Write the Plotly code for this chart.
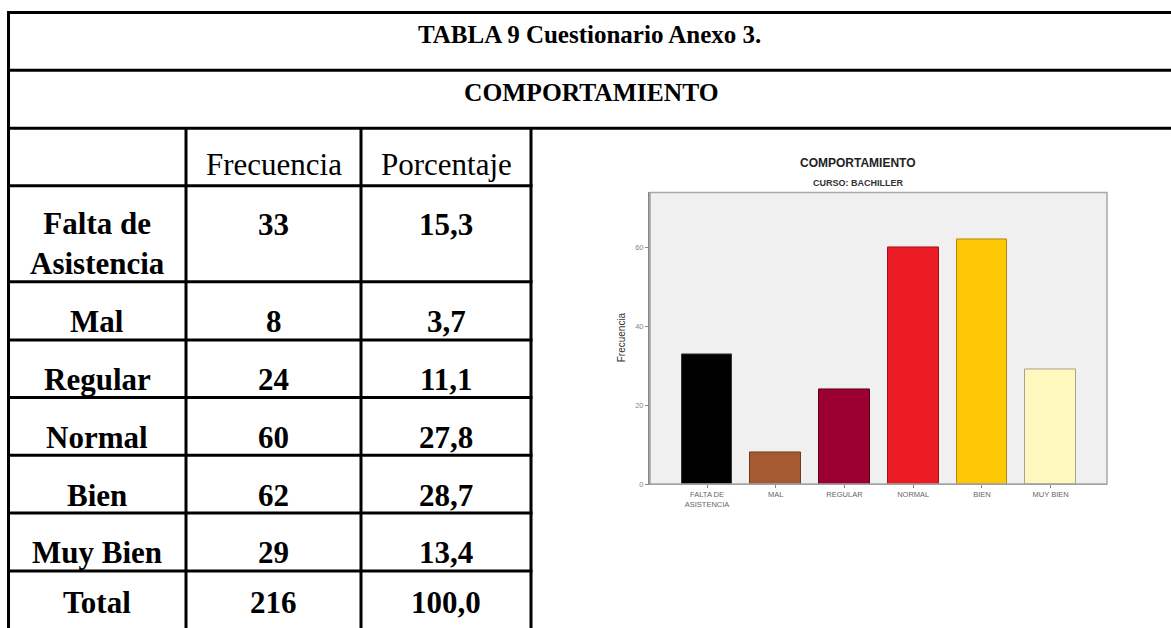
import plotly.graph_objects as go

W, H = 1171, 628

# ---- data ----
row_labels = ["Falta de<br>Asistencia", "Mal", "Regular", "Normal", "Bien", "Muy Bien"]
frecuencia = [33, 8, 24, 60, 62, 29]
porcentaje = ["15,3", "3,7", "11,1", "27,8", "28,7", "13,4"]
total_label = "Total"
total_frec = 216
total_pct = "100,0"
chart_labels = ["FALTA DE<br>ASISTENCIA", "MAL", "REGULAR", "NORMAL", "BIEN", "MUY BIEN"]
bar_colors = ["#000000", "#A65A32", "#9C0030", "#EC1C24", "#FFC805", "#FFF8BE"]
bar_edges = ["#333333", "#6E3A20", "#5E001C", "#A01218", "#B08A10", "#A8A48C"]
y_ticks = [0, 20, 40, 60]


def px(x):
    return x / W


def py(y):
    return 1 - y / H


fig = go.Figure()

fig.add_trace(go.Bar(
    x=list(range(len(frecuencia))), y=frecuencia,
    marker=dict(color=bar_colors, line=dict(color=bar_edges, width=1)),
    width=0.74, showlegend=False, hoverinfo="skip",
))

shapes = []
LW = 3
for y in [12.7, 70.7, 129.3]:
    shapes.append(dict(type="line", xref="paper", yref="paper", x0=px(7.2), x1=px(1180),
                       y0=py(y), y1=py(y), line=dict(color="black", width=LW)))
row_edges = [187.3, 284, 342.7, 400.7, 459, 517, 575.7]
for y in row_edges:
    shapes.append(dict(type="line", xref="paper", yref="paper", x0=px(7.2), x1=px(532.5),
                       y0=py(y), y1=py(y), line=dict(color="black", width=LW)))
shapes.append(dict(type="line", xref="paper", yref="paper", x0=px(8.5), x1=px(8.5),
                   y0=py(11.2), y1=py(640), line=dict(color="black", width=LW)))
for x in [186, 361, 531]:
    shapes.append(dict(type="line", xref="paper", yref="paper", x0=px(x), x1=px(x),
                       y0=py(129.3), y1=py(640), line=dict(color="black", width=LW)))
# chart frame
shapes.append(dict(type="rect", xref="paper", yref="paper", x0=px(650), x1=px(1107),
                   y0=py(488), y1=py(194), line=dict(color="#A8A8A8", width=1.5)))

ann = []
SERIF = "Liberation Serif"


def A(x, y, text, size, family=SERIF, color="black", **kw):
    d = dict(x=px(x), y=py(y), xref="paper", yref="paper", text=text, showarrow=False,
             xanchor="center", yanchor="middle",
             font=dict(family=family, size=size, color=color))
    d.update(kw)
    ann.append(d)


A(589, 35, "<b>TABLA 9 Cuestionario Anexo 3.</b>", 25)
A(591, 93, "<b>COMPORTAMIENTO</b>", 25.5)
A(273.5, 166, "Frecuencia", 31)
A(446, 166, "Porcentaje", 31)

labels_all = row_labels + [total_label]
frec_all = frecuencia + [total_frec]
pct_all = porcentaje + [total_pct]
tops = [187.3, 284, 342.7, 400.7, 459, 517, 575.7]
for i, (lab, f, p) in enumerate(zip(labels_all, frec_all, pct_all)):
    if i == 0:
        yl, yv = 245, 226
    elif i == len(labels_all) - 1:
        yl = yv = 607
    else:
        yl = yv = tops[i] + 40
    A(97, yl, f"<b>{lab}</b>", 31)
    A(273.5, yv, f"<b>{f}</b>", 31)
    A(446, yv, f"<b>{p}</b>", 31)

# chart titles
A(858, 164, "<b>COMPORTAMIENTO</b>", 12, family="Liberation Sans", color="#222")
A(858, 184, "<b>CURSO: BACHILLER</b>", 9, family="Liberation Sans", color="#333")
A(621, 340, "Frecuencia", 10, family="Liberation Sans", color="#333", textangle=-90)

fig.update_layout(
    width=W, height=H,
    margin=dict(l=0, r=0, t=0, b=0),
    paper_bgcolor="white",
    plot_bgcolor="#F0F0F0",
    shapes=shapes,
    annotations=ann,
    xaxis=dict(domain=[px(650), px(1107)], range=[-0.83, 5.82],
               tickvals=list(range(len(chart_labels))), ticktext=chart_labels,
               tickfont=dict(family="Liberation Sans", size=7.5, color="#666"),
               ticks="outside", ticklen=3, tickcolor="#888",
               showgrid=False, zeroline=False, showline=True, linecolor="#888", linewidth=1,
               fixedrange=True),
    yaxis=dict(domain=[py(488), py(194)], range=[0, 74],
               tickvals=y_ticks,
               tickfont=dict(family="Liberation Sans", size=7.5, color="#888"),
               ticks="outside", ticklen=3, tickcolor="#888",
               showgrid=False, zeroline=False, showline=True, linecolor="#888", linewidth=2,
               fixedrange=True),
    bargap=0,
)

fig.write_html("out.html", config={"displayModeBar": False},
               post_script="document.body.style.margin='0';document.body.style.overflow='hidden';")
